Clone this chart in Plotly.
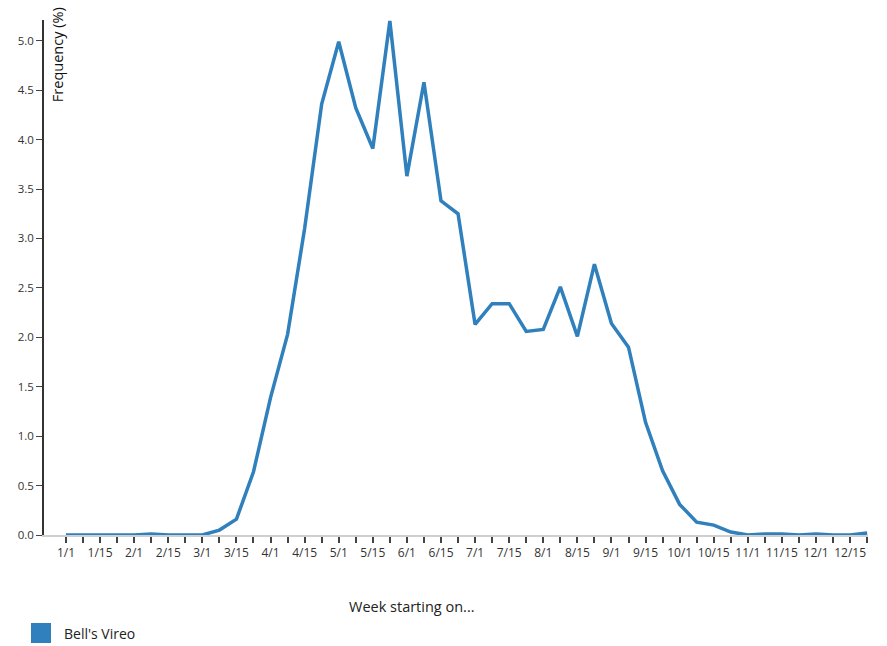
import plotly.graph_objects as go

# Weekly frequency of Bell's Vireo reports (48 weeks, four per month)
weeks = [f"{m}/{d}" for m in range(1, 13) for d in (1, 8, 15, 22)]
frequency = [
    0.00, 0.00, 0.00, 0.00, 0.00, 0.01, 0.00, 0.00,   # Jan, Feb
    0.00, 0.05, 0.16, 0.64, 1.39, 2.03, 3.10, 4.36,   # Mar, Apr
    4.99, 4.32, 3.91, 5.20, 3.63, 4.58, 3.38, 3.25,   # May, Jun
    2.13, 2.34, 2.34, 2.06, 2.08, 2.51, 2.01, 2.74,   # Jul, Aug
    2.14, 1.90, 1.14, 0.65, 0.31, 0.13, 0.10, 0.03,   # Sep, Oct
    0.00, 0.01, 0.01, 0.00, 0.01, 0.00, 0.00, 0.02,   # Nov, Dec
]
series_name = "Bell's Vireo"
label_days = ("1", "15")
y_ticks = [i * 0.5 for i in range(11)]

idx = list(range(len(weeks)))
tick_text = [w if w.split("/")[1] in label_days else "" for w in weeks]

line_color = "#2f80bd"
font_family = "Open Sans, Noto Sans, sans-serif"

fig = go.Figure()
fig.add_trace(go.Scatter(
    x=idx, y=frequency, mode="lines", name=series_name,
    line=dict(color=line_color, width=3.5),
    showlegend=False, hoverinfo="skip",
))

fig.update_layout(
    width=887, height=646,
    margin=dict(l=44, r=19, t=20, b=111),
    paper_bgcolor="white", plot_bgcolor="white",
    font=dict(family=font_family, size=11, color="#333"),
    xaxis=dict(
        range=[-1.29, len(weeks) - 1 + 0.05],
        tickmode="array", tickvals=idx, ticktext=tick_text,
        ticks="outside", ticklen=6, tickwidth=1.5, tickcolor="#444",
        showline=True, linecolor="#cfcfcf", linewidth=1.5,
        showgrid=False, zeroline=False,
        tickfont=dict(size=12, color="#333"),
    ),
    yaxis=dict(
        range=[0, 5.21],
        tickmode="array", tickvals=y_ticks,
        ticktext=[f"{v:.1f}" for v in y_ticks],
        ticks="outside", ticklen=6, tickwidth=1.2, tickcolor="#444",
        showline=True, linecolor="#333", linewidth=1.5,
        showgrid=False, zeroline=False,
        tickfont=dict(size=11.5, color="#333"),
    ),
)

# Rotated y-axis title sitting just inside the axis
fig.add_annotation(
    text="Frequency (%)", textangle=-90,
    xref="paper", yref="paper", x=0.0165, y=1.029,
    xanchor="center", yanchor="top", showarrow=False,
    font=dict(size=14.5, color="#111"),
)

# x-axis title
fig.add_annotation(
    text="Week starting on...",
    xref="paper", yref="paper", x=0.4466, y=-0.138,
    xanchor="center", yanchor="middle", showarrow=False,
    font=dict(size=14.5, color="#222"),
)

# Legend: swatch plus series name
fig.add_shape(
    type="rect", xref="paper", yref="paper",
    x0=-13 / 824, x1=7 / 824, y0=-108 / 515, y1=-88 / 515,
    fillcolor=line_color, line=dict(width=0),
)
fig.add_annotation(
    text=series_name,
    xref="paper", yref="paper", x=18 / 824, y=-98 / 515,
    xanchor="left", yanchor="middle", showarrow=False,
    font=dict(size=14, color="#222"),
)

fig.write_html("out.html")
